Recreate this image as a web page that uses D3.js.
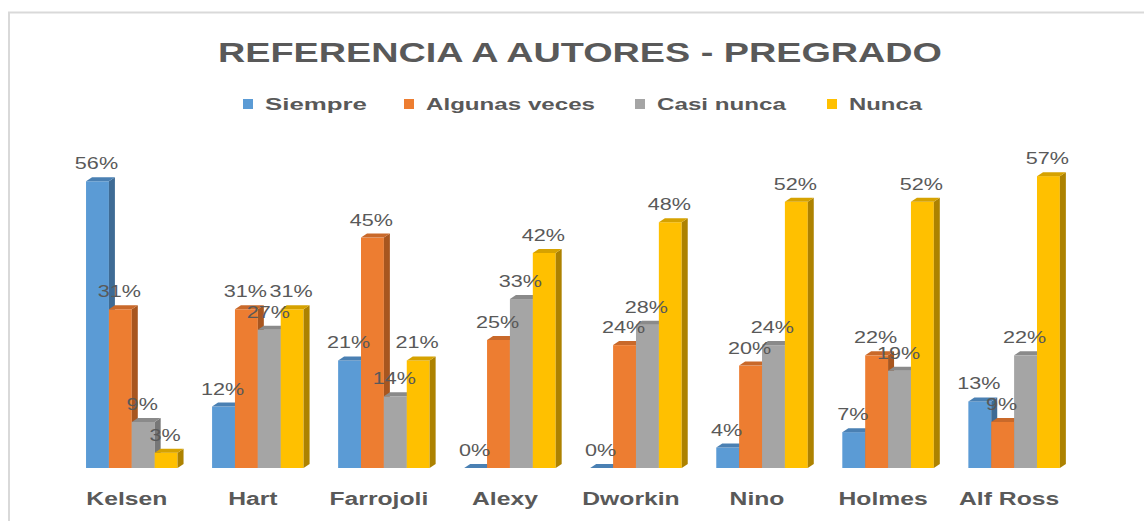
<!DOCTYPE html>
<html>
<head>
<meta charset="utf-8">
<script src="https://cdn.jsdelivr.net/npm/d3@7/dist/d3.min.js"></script>
<style>
  body { margin: 0; background: #fff; }
  text { font-family: "Liberation Sans", Arial, sans-serif; }
</style>
</head>
<body>
<div id="chart"></div>
<script>
// chart data
var authors = ["Kelsen", "Hart", "Farrojoli", "Alexy", "Dworkin", "Nino", "Holmes", "Alf Ross"];
var seriesNames = ["Siempre", "Algunas veces", "Casi nunca", "Nunca"];
var siempre      = [56, 12, 21, 0, 0, 4, 7, 13];
var algunasVeces = [31, 31, 45, 25, 24, 20, 22, 9];
var casiNunca    = [9, 27, 14, 33, 28, 24, 19, 22];
var nunca        = [3, 31, 21, 42, 48, 52, 52, 57];
var title = "REFERENCIA A AUTORES - PREGRADO";

var seriesValues = [siempre, algunasVeces, casiNunca, nunca];

// front / side / top colours per series
var colors = [
  { front: "#5B9BD5", side: "#3E6B95", top: "#4A80B3" },
  { front: "#ED7D31", side: "#A8561F", top: "#C9692A" },
  { front: "#A5A5A5", side: "#777777", top: "#8A8A8A" },
  { front: "#FFC000", side: "#AD8200", top: "#D6A200" }
];

var W = 1144, H = 521;
var depthX = 6, depthY = 4;

var svg = d3.select("#chart")
  .append("svg")
    .attr("width", W)
    .attr("height", H);

// outer frame
svg.append("rect")
  .attr("x", 9).attr("y", 12.5)
  .attr("width", W).attr("height", H)
  .attr("fill", "none")
  .attr("stroke", "#d9d9d9")
  .attr("stroke-width", 2);

svg.append("text")
  .attr("x", 580).attr("y", 62)
  .attr("text-anchor", "middle")
  .attr("font-size", 28)
  .attr("font-weight", "bold")
  .attr("fill", "#595959")
  .attr("textLength", 724)
  .attr("lengthAdjust", "spacingAndGlyphs")
  .text(title);

// legend
var legendX = [243, 404, 635, 827];
var legendW = [102, 169, 129, 73];
var legend = svg.append("g");
seriesNames.forEach(function(name, i) {
  legend.append("rect")
    .attr("x", legendX[i]).attr("y", 99)
    .attr("width", 10).attr("height", 10)
    .attr("fill", colors[i].front);
  legend.append("text")
    .attr("x", legendX[i] + 22).attr("y", 110)
    .attr("font-size", 17)
    .attr("font-weight", "bold")
    .attr("fill", "#595959")
    .attr("textLength", legendW[i])
    .attr("lengthAdjust", "spacingAndGlyphs")
    .text(name);
});

var x = d3.scaleBand()
  .domain(authors)
  .range([51.5, 1094.4])
  .paddingInner(0.274)
  .paddingOuter(0.274);

var xs = d3.scaleBand()
  .domain(d3.range(seriesNames.length))
  .range([0, x.bandwidth()]);

var y = d3.scaleLinear()
  .domain([0, 60])
  .range([468, 468 - 60 * 5.12]);

var bars = svg.append("g");
var labels = svg.append("g");

authors.forEach(function(a, ci) {
  seriesValues.forEach(function(vals, si) {
    var v = vals[ci];
    var x0 = x(a) + xs(si), x1 = x0 + xs.bandwidth();
    var yt = y(v), yb = y(0);
    var g = bars.append("g");
    g.append("rect")
      .attr("x", x0).attr("y", yt)
      .attr("width", x1 - x0).attr("height", yb - yt)
      .attr("fill", colors[si].front);
    g.append("polygon")
      .attr("points", [[x1, yt], [x1 + depthX, yt - depthY], [x1 + depthX, yb - depthY], [x1, yb]].join(" "))
      .attr("fill", colors[si].side);
    g.append("polygon")
      .attr("points", [[x0, yt], [x0 + depthX, yt - depthY], [x1 + depthX, yt - depthY], [x1, yt]].join(" "))
      .attr("fill", colors[si].top);

    labels.append("text")
      .attr("transform", "translate(" + ((x0 + x1) / 2 - 1) + "," + (yt - 12) + ") scale(1.35,1)")
      .attr("text-anchor", "middle")
      .attr("font-size", 16)
      .attr("fill", "#595959")
      .text(v + "%");
  });
});

// category labels
svg.append("g").selectAll("text")
  .data(authors)
  .enter().append("text")
    .attr("transform", function(d) { return "translate(" + (x(d) + x.bandwidth() / 2 - 5) + ",505) scale(1.3,1)"; })
    .attr("text-anchor", "middle")
    .attr("font-size", 19)
    .attr("font-weight", "bold")
    .attr("fill", "#595959")
    .text(function(d) { return d; });
</script>
</body>
</html>
